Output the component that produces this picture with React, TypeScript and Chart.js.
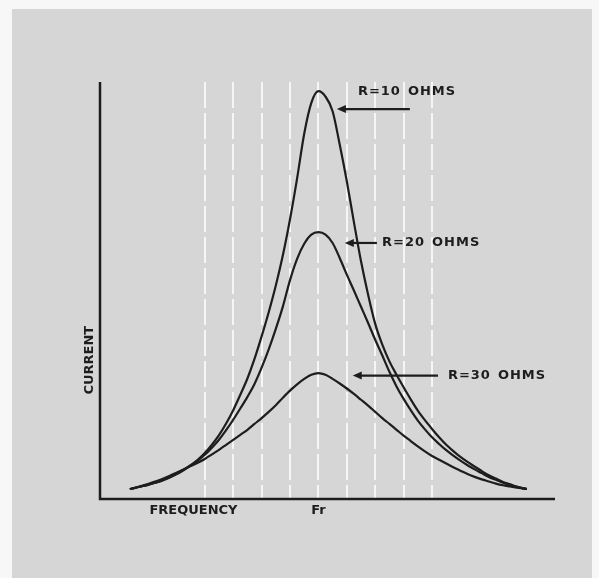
import React, { useEffect, useRef } from "react";
import { Chart, registerables } from "chart.js";

Chart.register(...registerables);

// Frequency in grid-line units (Fr at 0); current in % of the axis height
const gridTicks = [-4, -3, -2, -1, 0, 1, 2, 3, 4];
const xMin = -7.69;
const xMax = 8.33;
const yMin = 0;
const yMax = 100;

const freq = [
  -6.64, -6.5, -6.25, -6, -5.75, -5.5, -5.25, -5, -4.75, -4.5, -4.25, -4, -3.75, -3.5, -3.25, -3,
  -2.75, -2.5, -2.25, -2, -1.75, -1.5, -1.25, -1, -0.75, -0.5, -0.25, 0, 0.25, 0.5, 0.75, 1,
  1.25, 1.5, 1.75, 2, 2.25, 2.5, 2.75, 3, 3.25, 3.5, 3.75, 4, 4.25, 4.5, 4.75, 5,
  5.25, 5.5, 5.75, 6, 6.25, 6.5, 6.75, 7, 7.25, 7.34,
];

const r10 = [
  2.4, 2.6, 3.0, 3.4, 3.9, 4.5, 5.2, 6.1, 7.0, 8.1, 9.4, 11.0, 13.0, 15.3, 18.1, 21.3,
  25.0, 28.9, 33.6, 39.0, 44.8, 51.2, 58.5, 67.1, 76.9, 87.6, 95.0, 97.8, 96.5, 93.0, 85.0, 76.2,
  66.4, 57.0, 49.0, 42.0, 37.0, 33.0, 29.8, 26.8, 23.9, 21.2, 18.9, 16.8, 14.8, 13.0, 11.5, 10.1,
  8.9, 7.8, 6.7, 5.7, 4.9, 4.1, 3.5, 2.9, 2.5, 2.4,
];
const r20 = [
  2.4, 2.6, 3.0, 3.4, 3.9, 4.4, 5.1, 5.9, 6.9, 8.0, 9.2, 10.6, 12.3, 14.2, 16.5, 19.0,
  21.7, 24.5, 27.6, 31.5, 35.9, 40.8, 46.2, 52.5, 57.6, 61.2, 63.4, 64.0, 63.4, 61.4, 57.8, 53.8,
  50.0, 46.1, 42.2, 38.2, 34.4, 30.5, 27.0, 24.0, 21.3, 18.8, 16.7, 14.8, 13.2, 11.7, 10.4, 9.2,
  8.1, 7.1, 6.2, 5.3, 4.6, 3.9, 3.4, 2.9, 2.5, 2.4,
];
const r30 = [
  2.4, 2.6, 3.1, 3.6, 4.2, 4.8, 5.5, 6.3, 7.1, 7.9, 8.7, 9.6, 10.7, 11.8, 13.0, 14.2,
  15.4, 16.6, 18.0, 19.4, 20.9, 22.5, 24.3, 26.0, 27.5, 28.8, 29.8, 30.2, 29.8, 28.8, 27.7, 26.5,
  25.2, 23.8, 22.4, 20.9, 19.4, 18.0, 16.6, 15.2, 13.9, 12.6, 11.4, 10.3, 9.4, 8.5, 7.6, 6.8,
  6.0, 5.3, 4.7, 4.2, 3.7, 3.3, 3.0, 2.7, 2.5, 2.4,
];

const seriesLabels = ["R=10 OHMS", "R=20 OHMS", "R=30 OHMS"];
const arrowFromX = [3.22, 2.06, 4.21];
const arrowToX = [0.65, 0.93, 1.21];
const arrowY = [93.5, 61.4, 29.6];
const labelX = [1.39, 2.24, 4.56];
const labelY = [97.6, 61.4, 29.6];

const xAxisLabel = "FREQUENCY";
const xAxisLabelAt = -4.4;
const resonanceLabel = "Fr";
const resonanceAt = 0;
const yAxisLabel = "CURRENT";
const yAxisLabelAt = 33.3;

const toPoints = (xs: number[], ys: number[]) => xs.map((x, i) => ({ x, y: ys[i] }));

const INK = "#1d1d1d";
const FONT = 'bold 13px "DejaVu Sans"';

const decor = {
  id: "decor",
  beforeDraw(chart: any) {
    const { ctx, width, height } = chart;
    ctx.save();
    ctx.fillStyle = "#f7f7f7";
    ctx.fillRect(0, 0, width, height);
    ctx.fillStyle = "#d6d6d6";
    ctx.fillRect(12, 9, width - 19, height - 9);
    ctx.restore();
  },
  afterDraw(chart: any) {
    const { ctx, chartArea } = chart;
    const xs = chart.scales.x;
    const ys = chart.scales.y;
    ctx.save();
    // axes
    ctx.strokeStyle = INK;
    ctx.lineWidth = 2.5;
    ctx.beginPath();
    ctx.moveTo(chartArea.left, chartArea.top);
    ctx.lineTo(chartArea.left, chartArea.bottom);
    ctx.lineTo(chartArea.right, chartArea.bottom);
    ctx.stroke();

    ctx.fillStyle = INK;
    ctx.font = FONT;
    ctx.textBaseline = "middle";

    // axis labels
    ctx.textAlign = "center";
    (ctx as any).letterSpacing = "0px";
    ctx.fillText(xAxisLabel, xs.getPixelForValue(xAxisLabelAt), chartArea.bottom + 12);
    ctx.fillText(resonanceLabel, xs.getPixelForValue(resonanceAt), chartArea.bottom + 12);
    ctx.save();
    ctx.translate(chartArea.left - 10, ys.getPixelForValue(yAxisLabelAt));
    ctx.rotate(-Math.PI / 2);
    ctx.fillText(yAxisLabel, 0, 0);
    ctx.restore();

    // series annotations with arrows
    ctx.textAlign = "left";
    (ctx as any).letterSpacing = "1px";
    seriesLabels.forEach((label, i) => {
      const parts = label.split(" ");
      const tx = xs.getPixelForValue(labelX[i]);
      const ty = ys.getPixelForValue(labelY[i]);
      ctx.fillText(parts[0], tx, ty);
      const w = ctx.measureText(parts[0]).width;
      ctx.fillText(parts[1], tx + w + 7, ty);

      const x1 = xs.getPixelForValue(arrowFromX[i]);
      const x2 = xs.getPixelForValue(arrowToX[i]);
      const ay = ys.getPixelForValue(arrowY[i]);
      ctx.lineWidth = 2.2;
      ctx.beginPath();
      ctx.moveTo(x1, ay);
      ctx.lineTo(x2 + 5, ay);
      ctx.stroke();
      ctx.beginPath();
      ctx.moveTo(x2, ay);
      ctx.lineTo(x2 + 9, ay - 4);
      ctx.lineTo(x2 + 9, ay + 4);
      ctx.closePath();
      ctx.fill();
    });
    ctx.restore();
  },
};

export default function App() {
  const canvasRef = useRef<HTMLCanvasElement | null>(null);

  useEffect(() => {
    if (!canvasRef.current) return;
    const lineStyle = {
      borderColor: INK,
      borderWidth: 2.2,
      pointRadius: 0,
      fill: false,
      cubicInterpolationMode: "monotone" as const,
    };
    const chart = new Chart(canvasRef.current, {
      type: "line",
      data: {
        datasets: [
          { label: seriesLabels[0], data: toPoints(freq, r10), ...lineStyle },
          { label: seriesLabels[1], data: toPoints(freq, r20), ...lineStyle },
          { label: seriesLabels[2], data: toPoints(freq, r30), ...lineStyle },
        ],
      },
      options: {
        animation: false,
        responsive: false,
        layout: { padding: { left: 100, right: 44, top: 82, bottom: 79 } },
        plugins: {
          legend: { display: false },
          tooltip: { enabled: false },
          title: { display: false },
        },
        scales: {
          x: {
            type: "linear",
            min: xMin,
            max: xMax,
            afterBuildTicks: (scale: any) => {
              scale.ticks = gridTicks.map((v) => ({ value: v }));
            },
            ticks: { display: false },
            grid: { color: "#f6f6f6", lineWidth: 2, drawTicks: false },
            border: { display: false, dash: [26, 5] },
          },
          y: {
            type: "linear",
            min: yMin,
            max: yMax,
            display: false,
          },
        },
      },
      plugins: [decor],
    });
    return () => chart.destroy();
  }, []);

  return (
    <div style={{ position: "fixed", left: 0, top: 0, width: 599, height: 578 }}>
      <canvas ref={canvasRef} width={599} height={578} style={{ display: "block" }} />
    </div>
  );
}
